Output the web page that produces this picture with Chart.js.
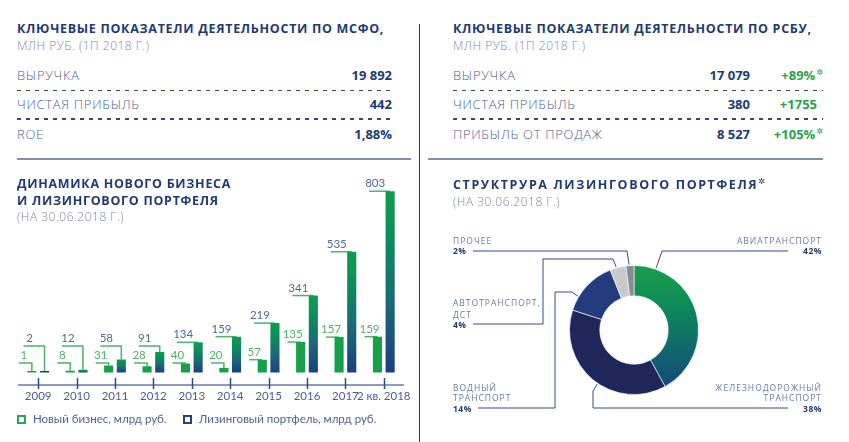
<!DOCTYPE html>
<html lang="ru">
<head>
<meta charset="utf-8">
<title>Ключевые показатели</title>
<script src="https://cdn.jsdelivr.net/npm/chart.js@4.4.1/dist/chart.umd.min.js"></script>
<style>
  html, body { margin: 0; padding: 0; background: #fff; }
  #page { position: relative; width: 849px; height: 442px; overflow: hidden; font-family: 'Open Sans', sans-serif; }
  .t { position: absolute; line-height: 1; white-space: nowrap; }
  .h { font-weight: 700; font-size: 12.5px; color: #1f3a72; letter-spacing: 0.7px; }
  .sub { font-size: 12px; color: #7b89ad; font-weight: 300; letter-spacing: 0.5px; }
  .row { font-size: 13px; color: #4d5f95; font-weight: 300; letter-spacing: 0.7px; }
  .val { font-size: 13px; color: #203a72; font-weight: 700; text-align: right; }
  .pct { font-size: 13px; color: #2aa24a; font-weight: 700; text-align: right; }
  .pct sup { font-size: 8px; font-family: 'DejaVu Sans'; vertical-align: 5px; margin-left: 1px; }
  .dash { position: absolute; height: 1.5px; background: repeating-linear-gradient(90deg, #2c4a8a 0 4px, transparent 4px 9px); }
  .solid { position: absolute; height: 2px; background: #7f8fb2; }
  .lbl { font-size: 8.5px; letter-spacing: 1px; color: #6a7aa8; }
  .lp { font-size: 8.5px; letter-spacing: 0.5px; color: #203a72; font-weight: 700; }
  .r { text-align: right; }
  #barBox { position: absolute; left: 0; top: 160px; width: 420px; height: 282px; }
  #pieBox { position: absolute; left: 425px; top: 160px; width: 424px; height: 282px; }
  #legend { position: absolute; left: 17px; top: 413px; font-family: Lato, sans-serif; font-size: 11.5px; color: #4d5f95; }
  #legend span.item { position: absolute; white-space: nowrap; line-height: 12px; }
  #legend i { display: inline-block; width: 5px; height: 5px; border: 2px solid; margin-right: 7px; vertical-align: -1px; }
</style>
</head>
<body>
<div id="page">
  <!-- МСФО -->
  <div class="t h" style="left:17px;top:22.8px">КЛЮЧЕВЫЕ ПОКАЗАТЕЛИ ДЕЯТЕЛЬНОСТИ ПО МСФО,</div>
  <div class="t sub" style="left:17px;top:40.2px">МЛН РУБ. (1П 2018 Г.)</div>
  <div class="t row" style="left:17px;top:68.7px">ВЫРУЧКА</div>
  <div class="t val" style="right:457px;top:68.7px">19 892</div>
  <div class="dash" style="left:17px;width:376px;top:89.5px"></div>
  <div class="t row" style="left:17px;top:97.7px">ЧИСТАЯ ПРИБЫЛЬ</div>
  <div class="t val" style="right:457px;top:97.7px">442</div>
  <div class="dash" style="left:17px;width:376px;top:118px"></div>
  <div class="t row" style="left:17px;top:127.7px">ROE</div>
  <div class="t val" style="right:457px;top:127.7px">1,88%</div>
  <div class="solid" style="left:17px;width:394px;top:158px"></div>

  <!-- РСБУ -->
  <div class="t h" style="left:453px;top:22.8px">КЛЮЧЕВЫЕ ПОКАЗАТЕЛИ ДЕЯТЕЛЬНОСТИ ПО РСБУ,</div>
  <div class="t sub" style="left:453px;top:40.2px">МЛН РУБ. (1П 2018 Г.)</div>
  <div class="t row" style="left:453px;top:68.7px">ВЫРУЧКА</div>
  <div class="t val" style="right:99px;top:68.7px">17 079</div>
  <div class="t pct" style="right:26px;top:68.7px">+89%<sup>✲</sup></div>
  <div class="dash" style="left:453px;width:370px;top:89.5px"></div>
  <div class="t row" style="left:453px;top:97.7px">ЧИСТАЯ ПРИБЫЛЬ</div>
  <div class="t val" style="right:99px;top:97.7px">380</div>
  <div class="t pct" style="right:32px;top:97.7px">+1755</div>
  <div class="dash" style="left:453px;width:370px;top:118px"></div>
  <div class="t row" style="left:453px;top:127.7px">ПРИБЫЛЬ ОТ ПРОДАЖ</div>
  <div class="t val" style="right:99px;top:127.7px">8 527</div>
  <div class="t pct" style="right:26px;top:127.7px">+105%<sup>✲</sup></div>
  <div class="solid" style="left:428px;width:395px;top:158px"></div>

  <div style="position:absolute;left:419px;top:24px;width:1px;height:418px;background:#1f3a72"></div>

  <!-- bar chart -->
  <div id="barBox"><canvas id="bars"></canvas></div>
  <div class="t h" style="left:17px;top:177.8px">ДИНАМИКА НОВОГО БИЗНЕСА</div>
  <div class="t h" style="left:17px;top:194.5px">И ЛИЗИНГОВОГО ПОРТФЕЛЯ</div>
  <div class="t sub" style="left:17px;top:211.2px">(НА 30.06.2018 Г.)</div>
  <div id="legend"></div>

  <!-- doughnut -->
  <div id="pieBox"><canvas id="pie"></canvas></div>
  <div class="t h" style="left:453px;top:177.8px;letter-spacing:1.6px">СТРУКТРУРА ЛИЗИНГОВОГО ПОРТФЕЛЯ<sup style="font-size:8px;font-family:'DejaVu Sans';color:#1f3a72;letter-spacing:0">✲</sup></div>
  <div class="t sub" style="left:453px;top:195.9px">(НА 30.06.2018 Г.)</div>

  <div class="t lbl" style="left:453px;top:236.9px">ПРОЧЕЕ</div>
  <div class="t lp" style="left:453px;top:246.6px">2%</div>
  <div class="t lbl r" style="right:27px;top:236.9px">АВИАТРАНСПОРТ</div>
  <div class="t lp r" style="right:27px;top:246.6px">42%</div>
  <div class="t lbl" style="left:453px;top:299.3px">АВТОТРАНСПОРТ,</div>
  <div class="t lbl" style="left:453px;top:310.6px">ДСТ</div>
  <div class="t lp" style="left:453px;top:321.3px">4%</div>
  <div class="t lbl" style="left:453px;top:383.6px">ВОДНЫЙ</div>
  <div class="t lbl" style="left:453px;top:393.9px">ТРАНСПОРТ</div>
  <div class="t lp" style="left:453px;top:404.6px">14%</div>
  <div class="t lbl r" style="right:27px;top:383.6px">ЖЕЛЕЗНОДОРОЖНЫЙ</div>
  <div class="t lbl r" style="right:27px;top:393.9px">ТРАНСПОРТ</div>
  <div class="t lp r" style="right:27px;top:404.6px">38%</div>
</div>

<script>
// --- data ---
const years = ['2009', '2010', '2011', '2012', '2013', '2014', '2015', '2016', '2017', '2\u202Fкв.\u202F2018'];
const newBusiness = [1, 8, 31, 28, 40, 20, 57, 135, 157, 159];
const portfolio = [2, 12, 58, 91, 134, 159, 219, 341, 535, 803];
const seriesNames = ['Новый бизнес, млрд руб.', 'Лизинговый портфель, млрд руб.'];

const sectors = ['Авиатранспорт', 'Железнодорожный транспорт', 'Водный транспорт', 'Автотранспорт, ДСТ', 'Прочее'];
const sectorShares = [42, 38, 14, 4, 2];
const sectorColors = [null, '#1f2659', '#243c7d', '#c8c9cb', '#878c98'];

const GREEN = '#17a04a';
const NAVY = '#1d3e80';

// legend (html, from series names)
const legendEl = document.getElementById('legend');
[[seriesNames[0], '#2ea651', 0], [seriesNames[1], '#23407f', 166]].forEach(([name, col, x]) => {
  const s = document.createElement('span');
  s.className = 'item';
  s.style.left = x + 'px';
  s.innerHTML = '<i style="border-color:' + col + '"></i>' + name;
  legendEl.appendChild(s);
});

function portfolioFill(c) {
  const chart = c.chart;
  const y = chart.scales.y;
  if (c.type !== 'data' || !y) return NAVY;
  const top = y.getPixelForValue(c.raw);
  const base = y.getPixelForValue(0);
  if (!isFinite(top) || base - top < 1) return NAVY;
  const g = chart.ctx.createLinearGradient(0, top, 0, base);
  g.addColorStop(0, '#0f9d4f');
  g.addColorStop(0.25, '#0b8f5a');
  g.addColorStop(0.6, '#1a6c75');
  g.addColorStop(1, '#1b3f82');
  return g;
}

// value labels with leader lines above bars
const barLabels = {
  id: 'barLabels',
  beforeDatasetsDraw(chart) {
    this.each(chart, (ctx, el, v, ds) => {
      const lineY = Math.min(el.y, el.base - ds.rise);
      ctx.strokeStyle = '#4db36a';
      ctx.lineWidth = 1.5;
      ctx.beginPath();
      ctx.moveTo(el.x - ds.reach, lineY);
      ctx.lineTo(el.x, lineY);
      if (lineY < el.y) ctx.lineTo(el.x, el.y);
      ctx.stroke();
    });
  },
  afterDatasetsDraw(chart) {
    this.each(chart, (ctx, el, v, ds) => {
      const lineY = Math.min(el.y, el.base - ds.rise);
      ctx.fillStyle = ds.textColor;
      ctx.font = '11.5px Lato';
      ctx.textAlign = 'center';
      ctx.textBaseline = 'alphabetic';
      ctx.fillText(String(v), el.x - ds.textShift, lineY - 4);
    });
  },
  each(chart, fn) {
    const ctx = chart.ctx;
    ctx.save();
    chart.data.datasets.forEach((ds, i) => {
      chart.getDatasetMeta(i).data.forEach((el, j) => fn(ctx, el, ds.data[j], ds));
    });
    ctx.restore();
  }
};

// tick marks crossing the axis line
const axisTicks = {
  id: 'axisTicks',
  afterDraw(chart) {
    const x = chart.scales.x;
    const ctx = chart.ctx;
    const yb = chart.chartArea.bottom;
    ctx.save();
    ctx.strokeStyle = '#2c4a8a';
    ctx.lineWidth = 1.5;
    x.ticks.forEach((t, i) => {
      const px = Math.round(x.getPixelForTick(i)) + 0.5;
      ctx.beginPath();
      ctx.moveTo(px, yb - 7);
      ctx.lineTo(px, yb + 4);
      ctx.stroke();
    });
    ctx.restore();
  }
};

new Chart(document.getElementById('bars'), {
  type: 'bar',
  data: {
    labels: years,
    datasets: [
      {
        label: seriesNames[0],
        data: newBusiness,
        backgroundColor: GREEN,
        rise: 9.5, reach: 13, textShift: 8, textColor: '#55b064'
      },
      {
        label: seriesNames[1],
        data: portfolio,
        backgroundColor: portfolioFill,
        rise: 26.7, reach: 21, textShift: 15, textColor: '#5068a0'
      }
    ]
  },
  options: {
    responsive: true,
    maintainAspectRatio: false,
    animation: false,
    categoryPercentage: 0.66,
    barPercentage: 0.72,
    minBarLength: 1.5,
    layout: { padding: { left: 19, right: 17, top: 9.3, bottom: 35.2 } },
    plugins: { legend: { display: false }, tooltip: { enabled: false } },
    scales: {
      x: {
        grid: { display: false, drawTicks: false },
        border: { display: true, color: '#8b9cc0', width: 2 },
        ticks: { color: '#4a5d96', font: { family: 'Lato', size: 11.5 }, padding: 4, maxRotation: 0, autoSkip: false }
      },
      y: { display: false, min: -55, max: 900 }
    }
  },
  plugins: [barLabels, axisTicks]
});

// doughnut
function sectorFill(c) {
  if (c.dataIndex !== 0) return sectorColors[c.dataIndex];
  const area = c.chart.chartArea;
  if (!area) return GREEN;
  const g = c.chart.ctx.createLinearGradient(0, area.top, 0, area.bottom);
  g.addColorStop(0, '#1a9e4b');
  g.addColorStop(0.3, '#0d8c58');
  g.addColorStop(1, '#15427f');
  return g;
}

// leader lines: anchor fraction along each arc, then elbow points (page coords)
const leaders = [
  { frac: 0.13, pts: [[662, 251], [788, 251]] },
  { frac: 0.46, pts: [[593, 391], [593, 408], [788, 408]] },
  { frac: 0.26, pts: [[572, 292], [555, 292], [555, 408], [478, 408]] },
  { frac: 0.4, pts: [[613, 259], [543, 259], [543, 324], [473, 324]] },
  { frac: 0.4, pts: [[627, 251], [473, 251]] }
];

const leaderLines = {
  id: 'leaderLines',
  afterDraw(chart) {
    const ctx = chart.ctx;
    const meta = chart.getDatasetMeta(0);
    ctx.save();
    ctx.strokeStyle = '#2f4d8c';
    ctx.lineWidth = 1;
    meta.data.forEach((arc, i) => {
      const L = leaders[i];
      const a = arc.startAngle + L.frac * (arc.endAngle - arc.startAngle);
      const r = arc.outerRadius + 1;
      ctx.beginPath();
      ctx.moveTo(arc.x + r * Math.cos(a), arc.y + r * Math.sin(a));
      L.pts.forEach(([px, py]) => ctx.lineTo(px - 425, py - 160));
      ctx.stroke();
    });
    ctx.restore();
  }
};

new Chart(document.getElementById('pie'), {
  type: 'doughnut',
  data: {
    labels: sectors,
    datasets: [{
      data: sectorShares,
      backgroundColor: sectorFill,
      borderColor: 'rgba(255,255,255,0.6)',
      borderWidth: 1
    }]
  },
  options: {
    responsive: true,
    maintainAspectRatio: false,
    animation: false,
    cutout: '53%',
    layout: { padding: { left: 144, right: 150, top: 105, bottom: 47 } },
    plugins: { legend: { display: false }, tooltip: { enabled: false } }
  },
  plugins: [leaderLines]
});
</script>
</body>
</html>
